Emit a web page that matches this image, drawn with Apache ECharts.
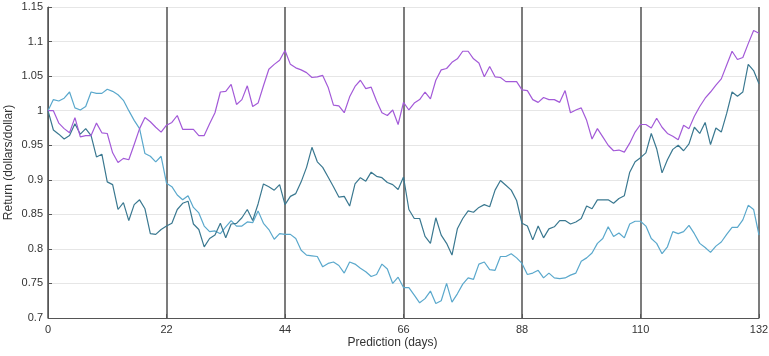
<!DOCTYPE html>
<html>
<head>
<meta charset="utf-8">
<script src="https://cdn.jsdelivr.net/npm/echarts@6/dist/echarts.min.js"></script>
<style>html,body{margin:0;padding:0;background:#fff;}#c{width:769px;height:356px;}</style>
</head>
<body>
<div id="c"></div>
<script>
const xTicks = [0, 22, 44, 66, 88, 110, 132];
const purple = [
1.000, 1.000, 0.982, 0.974, 0.968, 0.990, 0.962, 0.964, 0.964, 0.982, 0.968,
0.967, 0.939, 0.925, 0.931, 0.929, 0.951, 0.974, 0.990, 0.984, 0.976, 0.969,
0.979, 0.983, 0.993, 0.973, 0.973, 0.973, 0.964, 0.964, 0.981, 0.997, 1.027,
1.028, 1.038, 1.009, 1.016, 1.036, 1.006, 1.011, 1.036, 1.060, 1.067, 1.073,
1.087, 1.067, 1.062, 1.059, 1.055, 1.048, 1.049, 1.051, 1.034, 1.008, 1.007,
0.997, 1.020, 1.035, 1.044, 1.032, 1.034, 1.014, 0.997, 0.993, 1.001, 0.980,
1.012, 1.001, 1.011, 1.016, 1.027, 1.017, 1.044, 1.059, 1.061, 1.070, 1.075,
1.086, 1.086, 1.075, 1.069, 1.049, 1.064, 1.049, 1.048, 1.042, 1.042, 1.042,
1.030, 1.029, 1.016, 1.012, 1.019, 1.016, 1.016, 1.012, 1.029, 0.997, 1.001,
1.004, 0.986, 0.959, 0.974, 0.962, 0.950, 0.942, 0.943, 0.940, 0.953, 0.969,
0.980, 0.980, 0.975, 0.989, 0.976, 0.967, 0.963, 0.958, 0.979, 0.974, 0.992,
1.006, 1.018, 1.027, 1.037, 1.046, 1.066, 1.086, 1.074, 1.077, 1.097, 1.116,
1.112];
const teal = [
1.000, 0.972, 0.966, 0.959, 0.964, 0.981, 0.966, 0.974, 0.964, 0.933, 0.937,
0.897, 0.893, 0.857, 0.867, 0.841, 0.864, 0.871, 0.858, 0.822, 0.821, 0.828,
0.833, 0.837, 0.857, 0.866, 0.869, 0.836, 0.828, 0.803, 0.815, 0.820, 0.837,
0.816, 0.836, 0.837, 0.845, 0.857, 0.841, 0.865, 0.894, 0.890, 0.885, 0.893,
0.864, 0.876, 0.880, 0.897, 0.918, 0.947, 0.926, 0.918, 0.904, 0.890, 0.875,
0.876, 0.862, 0.894, 0.903, 0.898, 0.911, 0.905, 0.903, 0.896, 0.893, 0.886,
0.904, 0.857, 0.844, 0.844, 0.818, 0.808, 0.845, 0.820, 0.808, 0.791, 0.829,
0.844, 0.855, 0.853, 0.860, 0.864, 0.861, 0.885, 0.899, 0.892, 0.885, 0.870,
0.837, 0.833, 0.813, 0.833, 0.816, 0.829, 0.832, 0.841, 0.841, 0.836, 0.839,
0.844, 0.862, 0.858, 0.871, 0.871, 0.871, 0.866, 0.873, 0.877, 0.911, 0.926,
0.932, 0.939, 0.967, 0.945, 0.910, 0.929, 0.944, 0.950, 0.942, 0.952, 0.976,
0.967, 0.983, 0.951, 0.975, 0.969, 0.996, 1.027, 1.021, 1.027, 1.067, 1.058,
1.039];
const lightBlue = [
1.000, 1.016, 1.014, 1.018, 1.027, 1.004, 1.001, 1.006, 1.027, 1.025, 1.025,
1.031, 1.028, 1.023, 1.015, 1.000, 0.986, 0.974, 0.938, 0.934, 0.926, 0.934,
0.895, 0.890, 0.878, 0.871, 0.877, 0.860, 0.852, 0.833, 0.825, 0.826, 0.822,
0.832, 0.841, 0.833, 0.833, 0.839, 0.838, 0.855, 0.837, 0.828, 0.814, 0.822,
0.821, 0.821, 0.815, 0.798, 0.791, 0.790, 0.789, 0.774, 0.779, 0.781, 0.776,
0.765, 0.781, 0.778, 0.772, 0.767, 0.760, 0.763, 0.778, 0.771, 0.750, 0.759,
0.744, 0.744, 0.733, 0.722, 0.728, 0.739, 0.721, 0.725, 0.750, 0.723, 0.735,
0.749, 0.758, 0.756, 0.778, 0.781, 0.770, 0.769, 0.789, 0.789, 0.793, 0.787,
0.779, 0.763, 0.765, 0.769, 0.758, 0.765, 0.758, 0.757, 0.758, 0.762, 0.765,
0.782, 0.787, 0.794, 0.808, 0.815, 0.832, 0.818, 0.823, 0.816, 0.836, 0.840,
0.840, 0.833, 0.815, 0.808, 0.793, 0.803, 0.825, 0.822, 0.825, 0.834, 0.822,
0.808, 0.802, 0.795, 0.804, 0.810, 0.821, 0.831, 0.831, 0.842, 0.863, 0.857,
0.820];

const toPairs = arr => arr.map((v, i) => [i, v]);
const chart = echarts.init(document.getElementById('c'));
const font = 'Liberation Sans, Arial, sans-serif';
const lineSeries = (data, color) => ({
  type: 'line', data: toPairs(data), showSymbol: false, symbol: 'none',
  lineStyle: { color: color, width: 1.2 }, itemStyle: { color: color }, animation: false
});
chart.setOption({
  animation: false,
  grid: { left: 48, right: 10, top: 7, bottom: 38, containLabel: false, outerBoundsMode: 'none' },
  xAxis: {
    type: 'value', min: 0, max: 132, interval: 22,
    name: 'Prediction (days)', nameLocation: 'middle', nameGap: 19, nameMoveOverlap: false,
    nameTextStyle: { fontFamily: font, fontSize: 12, color: '#333', padding: [0, 22, 0, 0] },
    axisLine: { show: true, lineStyle: { color: '#555', width: 1 } },
    axisTick: { show: true, inside: true, length: 4, lineStyle: { color: '#555' } },
    axisLabel: { fontFamily: font, fontSize: 11, color: '#333', margin: 6 },
    splitLine: { show: true, lineStyle: { color: '#505050', width: 1.5 } }
  },
  yAxis: {
    type: 'value', min: 0.7, max: 1.15, interval: 0.05,
    name: 'Return (dollars/dollar)', nameLocation: 'middle', nameGap: 33, nameRotate: 90,
    nameMoveOverlap: false,
    nameTextStyle: { fontFamily: font, fontSize: 12, color: '#333' },
    axisLine: { show: true, lineStyle: { color: '#555', width: 1 } },
    axisTick: { show: true, inside: true, length: 4, lineStyle: { color: '#555' } },
    axisLabel: { fontFamily: font, fontSize: 11, color: '#333', margin: 5,
      formatter: v => String(+v.toFixed(2)) },
    splitLine: { show: true, lineStyle: { color: '#e6e6e6', width: 1 } }
  },
  series: [
    lineSeries(lightBlue, '#5aa8cc'),
    lineSeries(teal, '#3a7890'),
    lineSeries(purple, '#a35ad8')
  ]
});
</script>
</body>
</html>
